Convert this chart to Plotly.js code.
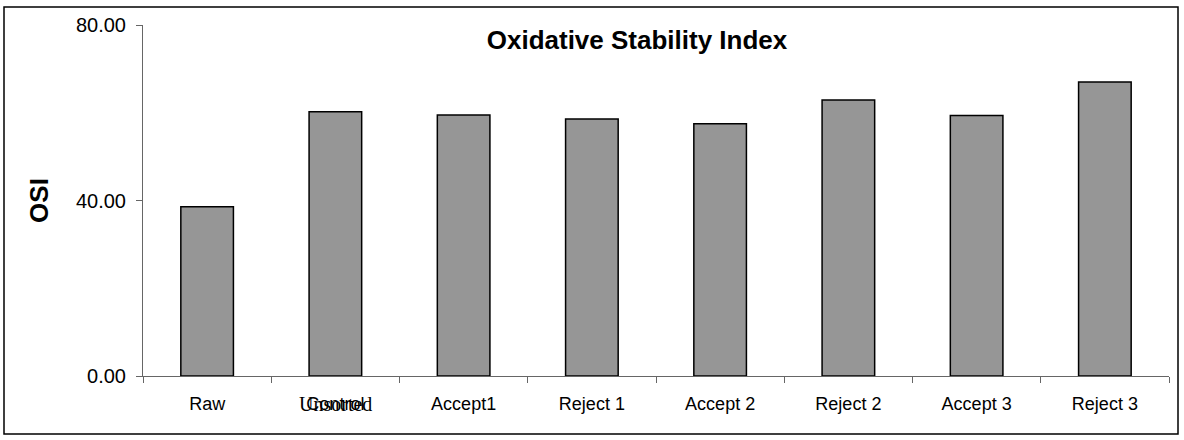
<!DOCTYPE html>
<html>
<head>
<meta charset="utf-8">
<script src="https://cdn.plot.ly/plotly-3.0.1.min.js"></script>
<style>html,body{margin:0;padding:0;background:#fff;}#chart{width:1184px;height:440px;}</style>
</head>
<body>
<div id="chart"></div>
<script>
const categories = ["Raw", "Control", "Accept1", "Reject 1", "Accept 2", "Reject 2", "Accept 3", "Reject 3"];
const osiValues = [38.6, 60.2, 59.5, 58.6, 57.5, 62.9, 59.4, 67.0];
const yTickValues = [0, 40, 80];
const yTickLabels = ["0.00", "40.00", "80.00"];
const overlapLabel = "Unsorted";

const trace = {
  type: "bar",
  x: categories,
  y: osiValues,
  marker: {color: "#969696", line: {color: "#000000", width: 1.5}},
  hoverinfo: "x+y"
};

const layout = {
  width: 1184,
  height: 440,
  paper_bgcolor: "#ffffff",
  plot_bgcolor: "#ffffff",
  margin: {l: 143, r: 15, t: 25, b: 64, pad: 0},
  showlegend: false,
  bargap: 0.59,
  font: {family: "Liberation Sans, Arial, sans-serif", color: "#000"},
  title: {
    text: "<b>Oxidative Stability Index</b>",
    font: {family: "Liberation Sans, Arial, sans-serif", size: 26, color: "#000"},
    x: 637/1184, xanchor: "center", xref: "container",
    y: 1 - 40/440, yanchor: "middle", yref: "container"
  },
  xaxis: {
    type: "category",
    showline: true, linecolor: "#666", linewidth: 1,
    ticks: "outside", ticklen: 6, tickcolor: "#666", tickson: "boundaries",
    tickfont: {size: 18, family: "Liberation Sans, Arial, sans-serif", color: "#000"},
    ticklabelstandoff: 11,
    showgrid: false, zeroline: false,
    fixedrange: true
  },
  yaxis: {
    range: [0, 80],
    tickvals: yTickValues,
    ticktext: yTickLabels,
    showline: true, linecolor: "#666", linewidth: 1,
    ticks: "outside", ticklen: 6, tickcolor: "#666",
    tickfont: {size: 20, family: "Liberation Sans, Arial, sans-serif", color: "#000"},
    ticklabelstandoff: 6,
    showgrid: false, zeroline: false,
    title: {text: "<b>OSI</b>", font: {size: 26, family: "Liberation Sans, Arial, sans-serif", color: "#000"}, standoff: 19},
    automargin: false,
    fixedrange: true
  },
  annotations: [{
    x: categories[1], xref: "x",
    y: 0, yref: "y", yanchor: "top",
    yshift: -14.5,
    text: overlapLabel,
    showarrow: false,
    font: {family: "Liberation Serif, Times New Roman, serif", size: 20, color: "#000"}
  }],
  shapes: [{
    type: "rect", xref: "paper", yref: "paper",
    x0: (4 - 143)/1026, x1: (1178 - 143)/1026,
    y0: (376 - 434)/351, y1: (376 - 7)/351,
    line: {color: "#000", width: 1.5}, fillcolor: "rgba(0,0,0,0)", layer: "below"
  }]
};

Plotly.newPlot("chart", [trace], layout, {displayModeBar: false, staticPlot: true});
</script>
</body>
</html>
